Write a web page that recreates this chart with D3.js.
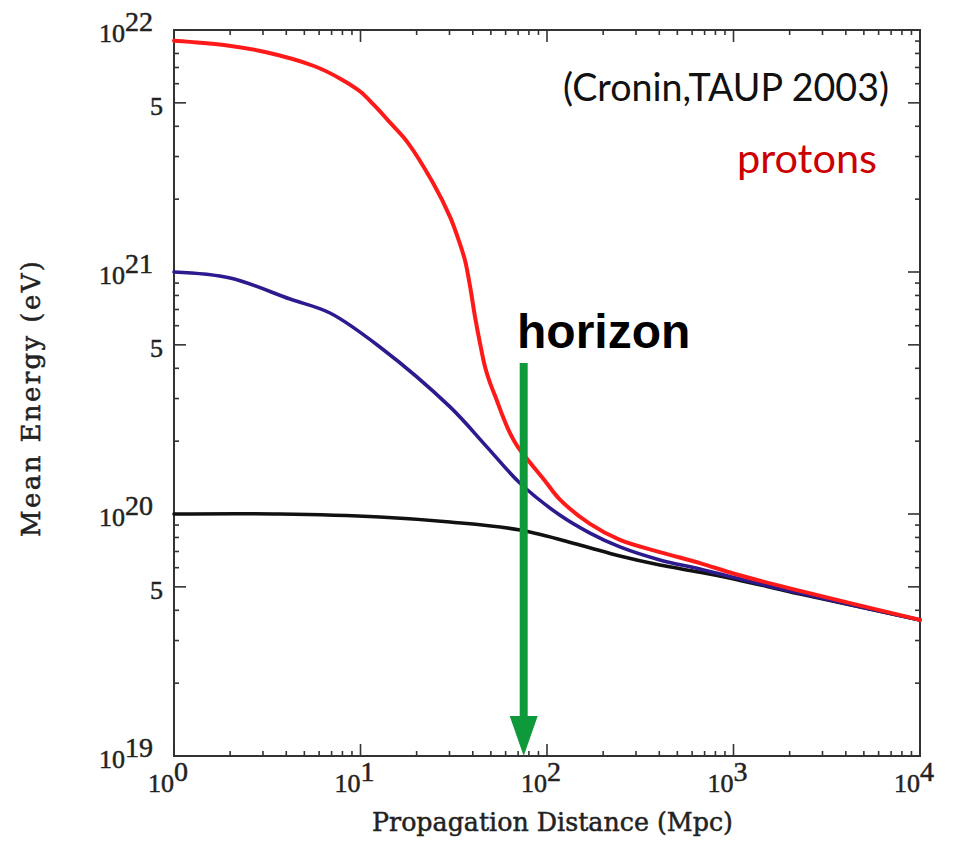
<!DOCTYPE html>
<html>
<head>
<meta charset="utf-8">
<script src="https://cdn.jsdelivr.net/npm/d3@7"></script>
<style>
  body { margin: 0; background: #fff; }
  svg { display: block; }
</style>
</head>
<body>
<svg id="chart" width="953" height="850"></svg>
<script>
// Axis decades (powers of ten) and labelled half-decade ticks
const distanceDecades = [0, 1, 2, 3, 4];          // 10^0 .. 10^4 Mpc
const energyDecades = [19, 20, 21, 22];           // 10^19 .. 10^22 eV
const energyFives = [5e19, 5e20, 5e21];

// Mean proton energy vs. propagation distance, three injection energies
const distHigh = [1, 1.85, 3.04, 5.63, 7.83, 10, 11.8, 14.5, 17.8, 24.5, 30.2, 32.9, 36.3, 38.6, 41.1, 43.7, 46.5, 49.5, 53.7, 58.1, 63.3, 69.6, 97.6, 117, 170, 246, 403, 661, 1019, 2276, 10000];
const energyHigh = [9.03e21, 8.67e21, 8.13e21, 7.1e21, 6.28e21, 5.56e21, 4.90e21, 4.12e21, 3.45e21, 2.33e21, 1.69e21, 1.42e21, 1.12e21, 8.8e20, 6.54e20, 5.09e20, 4.06e20, 3.48e20, 2.96e20, 2.52e20, 2.16e20, 1.90e20, 1.37e20, 1.15e20, 9.1e19, 7.82e19, 6.96e19, 6.27e19, 5.65e19, 4.81e19, 3.65e19];

const distMid = [1, 2, 4.19, 6.86, 12.7, 30.2, 47.7, 71.7, 117, 170, 246, 403, 661, 1019, 2276, 10000];
const energyMid = [1e21, 9.45e20, 7.73e20, 6.77e20, 4.90e20, 2.77e20, 1.89e20, 1.34e20, 9.9e19, 8.34e19, 7.31e19, 6.46e19, 5.93e19, 5.45e19, 4.7e19, 3.65e19];

const distLow = [1, 3.7, 12.7, 30.2, 71.7, 150, 246, 403, 661, 1019, 2276, 10000];
const energyLow = [1e20, 1e20, 9.72e19, 9.27e19, 8.59e19, 7.45e19, 6.7e19, 6.15e19, 5.75e19, 5.38e19, 4.67e19, 3.65e19];

const horizonDistance = 75; // Mpc

const series = [
  { dist: distLow, energy: energyLow, color: "#111111", width: 3.6 },
  { dist: distMid, energy: energyMid, color: "#2b1b8e", width: 3.6 },
  { dist: distHigh, energy: energyHigh, color: "#ff1a1a", width: 4 }
];

const svg = d3.select("#chart");
const plotLeft = 174, plotRight = 920, plotTop = 30, plotBottom = 756;

const x = d3.scaleLog().domain([1, 1e4]).range([plotLeft, plotRight]);
const y = d3.scaleLog().domain([1e19, 1e22]).range([plotBottom, plotTop]);

const axisColor = "#333";

// Frame
svg.append("rect")
  .attr("x", plotLeft).attr("y", plotTop)
  .attr("width", plotRight - plotLeft).attr("height", plotBottom - plotTop)
  .attr("fill", "none").attr("stroke", axisColor).attr("stroke-width", 2);

// Ticks (inward, on all four sides)
const ticks = svg.append("g").attr("stroke", axisColor).attr("stroke-width", 1.6);
const major = 12, minor = 5;

distanceDecades.forEach(d => {
  const v = Math.pow(10, d);
  const px = x(v);
  ticks.append("line").attr("x1", px).attr("x2", px).attr("y1", plotBottom).attr("y2", plotBottom - major);
  ticks.append("line").attr("x1", px).attr("x2", px).attr("y1", plotTop).attr("y2", plotTop + major);
  if (d < 4) {
    for (let m = 2; m <= 9; m++) {
      const p = x(m * v);
      ticks.append("line").attr("x1", p).attr("x2", p).attr("y1", plotBottom).attr("y2", plotBottom - minor);
      ticks.append("line").attr("x1", p).attr("x2", p).attr("y1", plotTop).attr("y2", plotTop + minor);
    }
  }
});

energyDecades.forEach(d => {
  const v = Math.pow(10, d);
  const py = y(v);
  ticks.append("line").attr("x1", plotLeft).attr("x2", plotLeft + major).attr("y1", py).attr("y2", py);
  ticks.append("line").attr("x1", plotRight).attr("x2", plotRight - major).attr("y1", py).attr("y2", py);
  if (d < 22) {
    for (let m = 2; m <= 9; m++) {
      const p = y(m * v);
      const len = m === 5 ? major : minor;
      ticks.append("line").attr("x1", plotLeft).attr("x2", plotLeft + len).attr("y1", p).attr("y2", p);
      ticks.append("line").attr("x1", plotRight).attr("x2", plotRight - len).attr("y1", p).attr("y2", p);
    }
  }
});

// Tick labels
const labelFont = "'Liberation Serif', 'Times New Roman', serif";
const labels = svg.append("g")
  .attr("font-family", labelFont).attr("font-size", 26).attr("fill", "#222")
  .attr("stroke", "#222").attr("stroke-width", 0.5);

distanceDecades.forEach(d => {
  const t = labels.append("text")
    .attr("x", x(Math.pow(10, d)) - 26).attr("y", 792);
  t.append("tspan").text("10");
  t.append("tspan").attr("dy", -11).attr("font-size", 28).text(d);
});

energyDecades.forEach(d => {
  const t = labels.append("text")
    .attr("x", 153).attr("y", y(Math.pow(10, d)) + 12)
    .attr("text-anchor", "end");
  t.append("tspan").text("10");
  t.append("tspan").attr("dy", -11).attr("font-size", 28).text(d);
});

energyFives.forEach(v => {
  labels.append("text")
    .attr("x", 163).attr("y", y(v) + 12)
    .attr("text-anchor", "end").text("5");
});

// Axis titles (slab-serif, evenly spaced)
const titleFont = "'DejaVu Serif', serif";
svg.append("text")
  .attr("x", 372).attr("y", 831)
  .attr("font-family", titleFont).attr("font-size", 26)
  .attr("textLength", 361).attr("lengthAdjust", "spacingAndGlyphs")
  .attr("fill", "#222").attr("stroke", "#222").attr("stroke-width", 0.5)
  .text("Propagation Distance (Mpc)");

svg.append("text")
  .attr("transform", "translate(40,537) rotate(-90)")
  .attr("font-family", titleFont).attr("font-size", 26)
  .attr("textLength", 276).attr("lengthAdjust", "spacing")
  .attr("fill", "#222").attr("stroke", "#222").attr("stroke-width", 0.5)
  .text("Mean Energy (eV)");

// Curves
const line = d3.line()
  .x(d => x(d[0]))
  .y(d => y(d[1]))
  .curve(d3.curveCatmullRom.alpha(0.5));

series.forEach(s => {
  svg.append("path")
    .datum(s.dist.map((v, i) => [v, s.energy[i]]))
    .attr("fill", "none")
    .attr("stroke", s.color)
    .attr("stroke-width", s.width)
    .attr("stroke-linejoin", "round")
    .attr("stroke-linecap", "round")
    .attr("d", line);
});

// Horizon arrow
const green = "#0e9a3b";
const hx = x(horizonDistance);
svg.append("line")
  .attr("x1", hx).attr("x2", hx)
  .attr("y1", 363).attr("y2", 718)
  .attr("stroke", green).attr("stroke-width", 8);
svg.append("path")
  .attr("d", `M${hx - 14},716 L${hx + 14},716 L${hx},${y(1e19)} Z`)
  .attr("fill", green);

svg.append("text")
  .attr("x", 517).attr("y", 348)
  .attr("font-family", "'Liberation Sans', Arial, sans-serif")
  .attr("font-weight", "bold").attr("font-size", 48)
  .attr("fill", "#000")
  .text("horizon");

// Annotations
svg.append("text")
  .attr("x", 563).attr("y", 101)
  .attr("font-family", "Lato, 'Open Sans', sans-serif")
  .attr("font-size", 38)
  .attr("textLength", 326).attr("lengthAdjust", "spacingAndGlyphs")
  .attr("fill", "#111")
  .text("(Cronin,TAUP 2003)");

svg.append("text")
  .attr("x", 737).attr("y", 173)
  .attr("font-family", "Lato, 'Open Sans', sans-serif")
  .attr("font-size", 40)
  .attr("textLength", 140).attr("lengthAdjust", "spacingAndGlyphs")
  .attr("fill", "#cc0000")
  .text("protons");
</script>
</body>
</html>
